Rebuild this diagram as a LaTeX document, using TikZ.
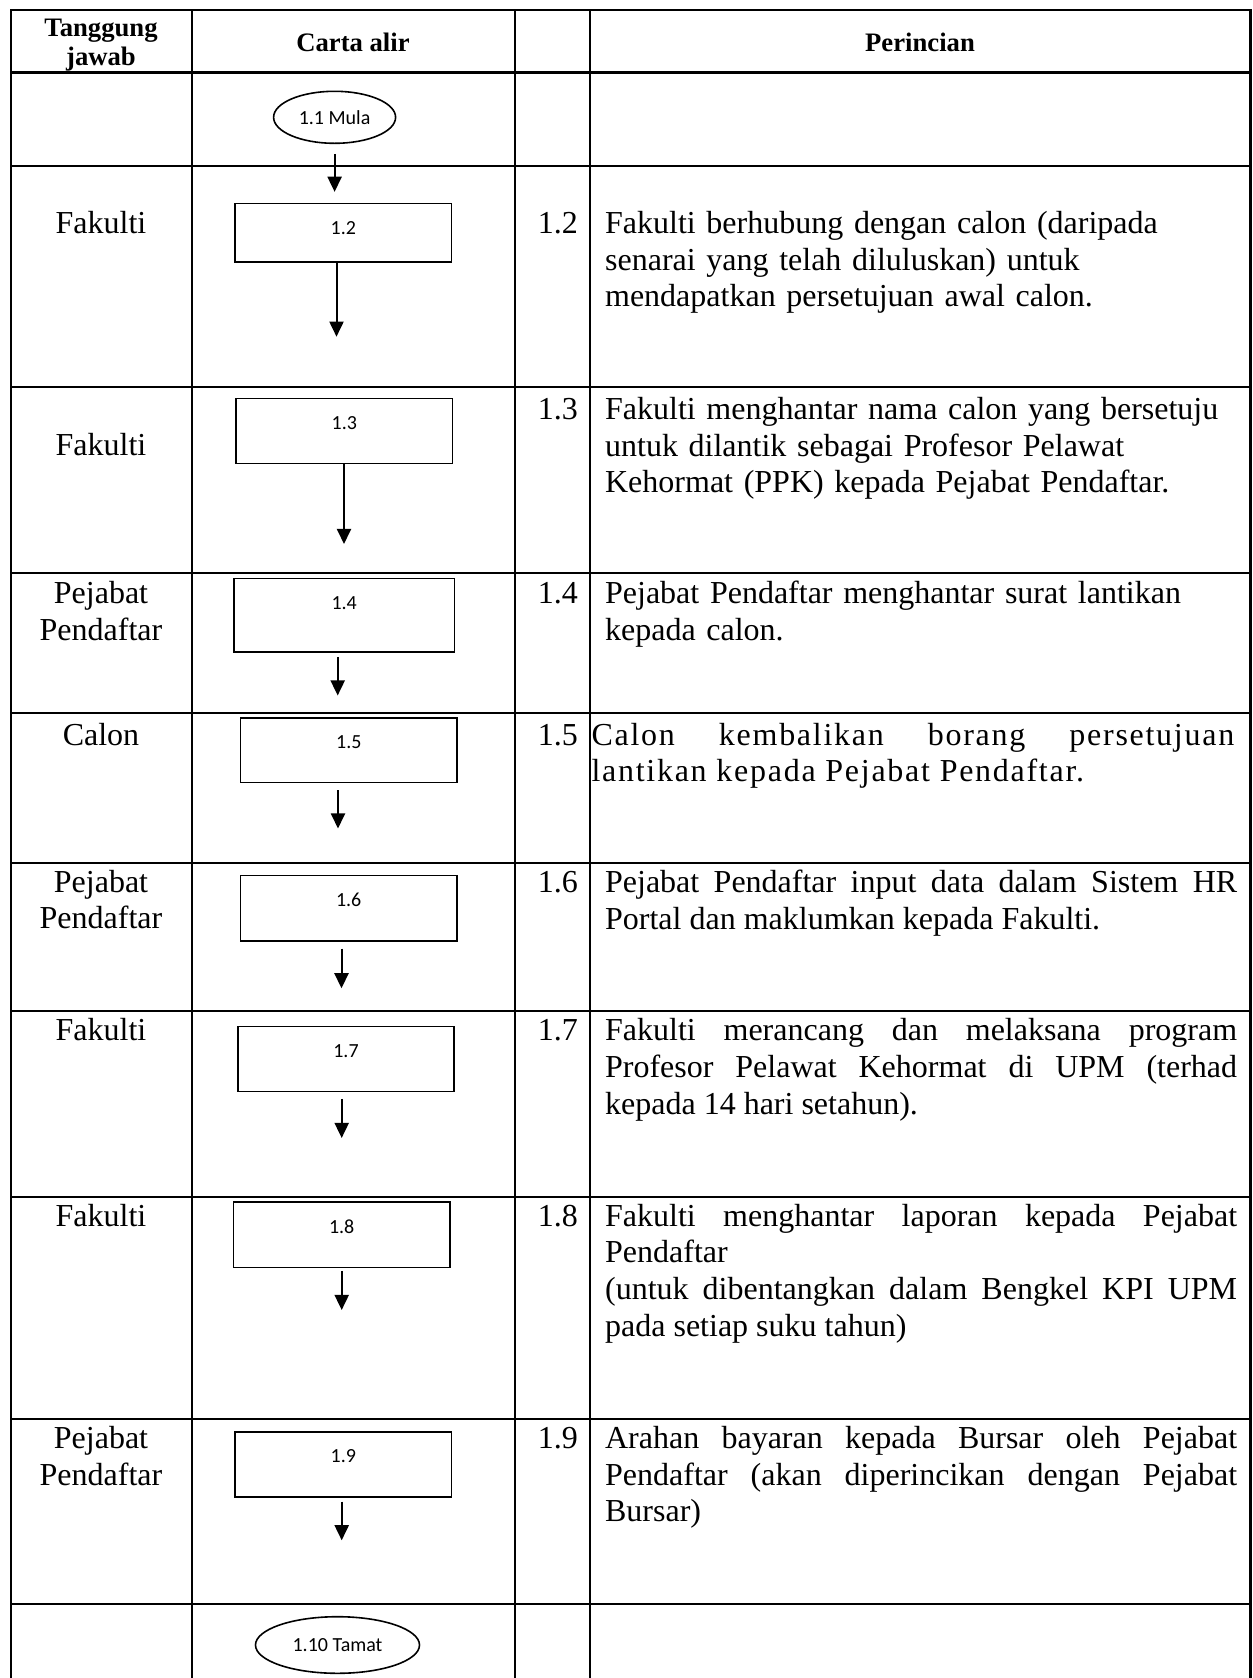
\documentclass[tikz,border=0pt]{standalone}
\usepackage{fontspec}
\setmainfont{Liberation Serif}
\newfontfamily\calibri{Carlito}
\usetikzlibrary{arrows.meta,shapes.geometric}
\newdimen\upx
\upx=0.375pt
\tikzset{
	garis/.style={line width=0.8pt, line cap=rect},
	kotak/.style={draw, line width=0.6pt, rectangle, inner sep=0pt, minimum width=216.5\upx,
		text height=31\upx, text depth=#1\upx, font=\calibri\fontsize{7.5}{9}\selectfont},
	terminal/.style={draw, line width=0.6pt, ellipse, inner sep=0pt, font=\calibri\fontsize{7.5}{9}\selectfont},
	panah/.style={line width=0.75pt, -{Triangle[width=5.3pt,length=5.7pt]}},
	tajuk/.style={font=\bfseries\fontsize{10}{10.6}\selectfont, inner sep=0pt, align=center, anchor=base},
	teks/.style={font=\fontsize{12}{13.8}\selectfont, inner sep=0pt},
	tanggung/.style={teks, align=center, anchor=base},
	nombor/.style={teks, anchor=base west},
	huraian/.style={teks, anchor=base west, text width=237pt, align=justify},
}
\begin{document}
\begin{tikzpicture}[x=0.375pt, y=-0.375pt]
	\useasboundingbox (0,0) rectangle (1252,1678);
	\foreach \y in {10.3,72.5,165.7,387.4,573.3,713.3,862.8,1010.8,1196.6,1418.6,1604}
		\draw[garis] (11,\y) -- (1250.5,\y);
	\foreach \x in {11,191.6,515,589.6,1250.5}
		\draw[garis] (\x,10.3) -- (\x,1682);

	\node[tajuk] (tanggungjawab) at (101,65) {Tanggung\\jawab};
	\node[tajuk] (cartaalir) at (353,51.7) {Carta alir};
	\node[tajuk] (perincian) at (920,51.7) {Perincian};

	\node[terminal, minimum width=122\upx, minimum height=52\upx] (mula) at (334.6,117.3) {1.1 Mula};
	\node[kotak=27.4] (b12) at (343.3,232.5) {1.2};
	\node[kotak=34] (b13) at (344.3,430.8) {1.3};
	\node[kotak=42.4, minimum width=220.3\upx] (b14) at (344.2,615) {1.4};
	\node[kotak=33.7] (b15) at (348.8,750.3) {1.5};
	\node[kotak=34.4] (b16) at (348.7,908.3) {1.6};
	\node[kotak=34.3] (b17) at (346,1059) {1.7};
	\node[kotak=34.3] (b18) at (341.7,1234.7) {1.8};
	\node[kotak=34] (b19) at (343.3,1464.2) {1.9};
	\node[terminal, minimum width=164\upx, minimum height=56.6\upx] (tamat) at (337.5,1645) {1.10 Tamat};

	\coordinate (u12) at (336.5,336.7);
	\coordinate (u13) at (344,544);
	\coordinate (u14) at (337.7,695.5);
	\coordinate (u15) at (338,828.5);
	\coordinate (u16) at (341.5,988.3);
	\coordinate (u17) at (341.7,1138);
	\coordinate (u18) at (341.7,1310);
	\coordinate (u19) at (341.7,1540.3);
	\draw[panah, shorten <=3.7pt, shorten >=4pt] (mula.south) -- (mula.south |- b12.north);
	\draw[panah] (b12.south -| u12) -- (u12);
	\draw[panah] (b13.south -| u13) -- (u13);
	\draw[panah, shorten <=1.6pt] (b14.south -| u14) -- (u14);
	\draw[panah, shorten <=2.5pt] (b15.south -| u15) -- (u15);
	\draw[panah, shorten <=2.6pt] (b16.south -| u16) -- (u16);
	\draw[panah, shorten <=2.4pt] (b17.south -| u17) -- (u17);
	\draw[panah, shorten <=1pt] (b18.south -| u18) -- (u18);
	\draw[panah, shorten <=1.5pt] (b19.south -| u19) -- (u19);

	\node[tanggung] (tj12) at (101,233.3) {Fakulti};
	\node[tanggung] (tj13) at (101,455) {Fakulti};
	\node[tanggung] (tj14) at (101,640) {Pejabat\\Pendaftar};
	\node[tanggung] (tj15) at (101,745) {Calon};
	\node[tanggung] (tj16) at (101,928.8) {Pejabat\\Pendaftar};
	\node[tanggung] (tj17) at (101,1040.8) {Fakulti};
	\node[tanggung] (tj18) at (101,1226) {Fakulti};
	\node[tanggung] (tj19) at (101,1485) {Pejabat\\Pendaftar};

	\node[nombor] (n12) at (537.4,233.3) {1.2};
	\node[nombor] (n13) at (537.4,419.3) {1.3};
	\node[nombor] (n14) at (537.4,603.3) {1.4};
	\node[nombor] (n15) at (537.4,745) {1.5};
	\node[nombor] (n16) at (537.4,892.7) {1.6};
	\node[nombor] (n17) at (537.4,1040.8) {1.7};
	\node[nombor] (n18) at (537.4,1226) {1.8};
	\node[nombor] (n19) at (537.4,1448.3) {1.9};

	\node[huraian, align=left] (h12) at (604.6,233.3) {Fakulti berhubung dengan calon (daripada\\senarai yang telah diluluskan) untuk\\mendapatkan persetujuan awal calon.};
	\node[huraian, align=left] (h13) at (604.6,419.3) {Fakulti menghantar nama calon yang bersetuju\\untuk dilantik sebagai Profesor Pelawat\\Kehormat (PPK) kepada Pejabat Pendaftar.};
	\node[huraian, align=left] (h14) at (604.6,603.3) {Pejabat Pendaftar menghantar surat lantikan\\kepada calon.};
	\node[huraian, text width=241pt] (h15) at (591,745) {\addfontfeature{LetterSpace=5.4}Calon kembalikan borang persetujuan\linebreak lantikan kepada Pejabat Pendaftar.};
	\node[huraian] (h16) at (604.6,892.7) {Pejabat Pendaftar input data dalam Sistem HR\linebreak Portal dan maklumkan kepada Fakulti.};
	\node[huraian] (h17) at (604.6,1040.8) {Fakulti merancang dan melaksana program\linebreak Profesor Pelawat Kehormat di UPM (terhad\linebreak kepada 14 hari setahun).};
	\node[huraian] (h18) at (604.6,1226) {Fakulti menghantar laporan kepada Pejabat\linebreak Pendaftar\\(untuk dibentangkan dalam Bengkel KPI UPM\linebreak pada setiap suku tahun)};
	\node[huraian] (h19) at (604.6,1448.3) {Arahan bayaran kepada Bursar oleh Pejabat\linebreak Pendaftar (akan diperincikan dengan Pejabat\linebreak Bursar)};
\end{tikzpicture}
\end{document}
